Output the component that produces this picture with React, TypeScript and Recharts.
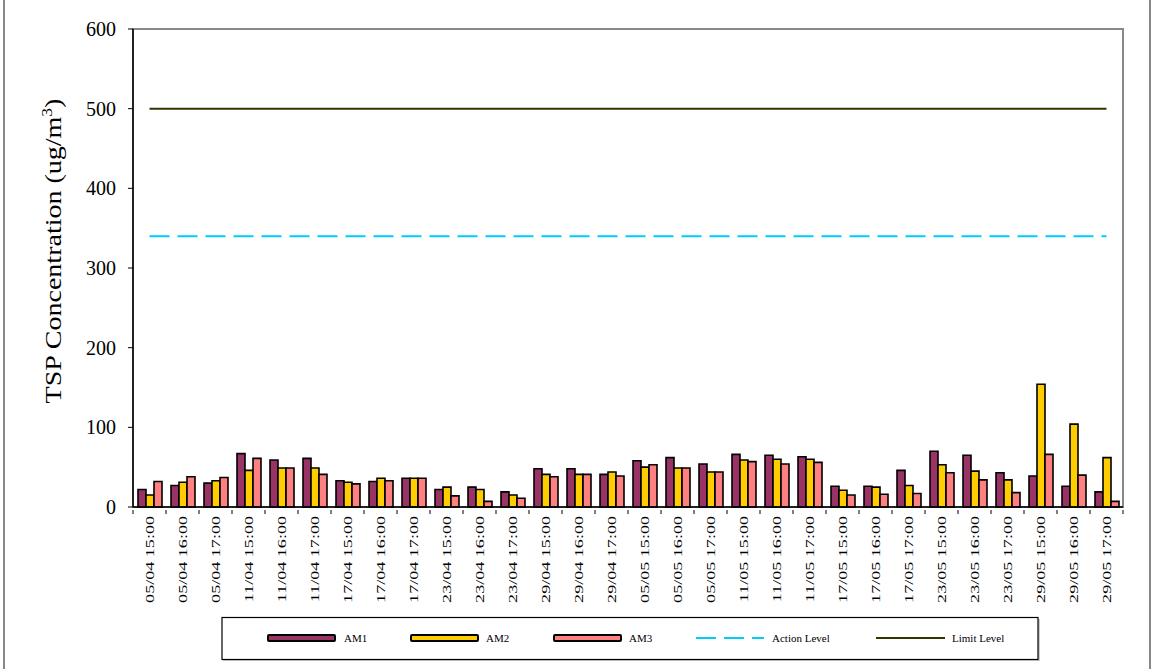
import React from "react";
import { ComposedChart, Bar, Line, XAxis, YAxis } from "recharts";

const categories = [
  "05/04 15:00", "05/04 16:00", "05/04 17:00",
  "11/04 15:00", "11/04 16:00", "11/04 17:00",
  "17/04 15:00", "17/04 16:00", "17/04 17:00",
  "23/04 15:00", "23/04 16:00", "23/04 17:00",
  "29/04 15:00", "29/04 16:00", "29/04 17:00",
  "05/05 15:00", "05/05 16:00", "05/05 17:00",
  "11/05 15:00", "11/05 16:00", "11/05 17:00",
  "17/05 15:00", "17/05 16:00", "17/05 17:00",
  "23/05 15:00", "23/05 16:00", "23/05 17:00",
  "29/05 15:00", "29/05 16:00", "29/05 17:00",
];

const am1 = [22, 27, 30, 67, 59, 61, 33, 32, 36, 22, 25, 19, 48, 48, 41, 58, 62, 54, 66, 65, 63, 26, 26, 46, 70, 65, 43, 39, 26, 19];
const am2 = [15, 31, 33, 46, 49, 49, 31, 36, 36, 25, 22, 15, 41, 41, 44, 50, 49, 44, 59, 60, 60, 21, 25, 27, 53, 45, 34, 154, 104, 62];
const am3 = [32, 38, 37, 61, 49, 41, 29, 33, 36, 14, 7, 11, 38, 41, 39, 53, 49, 44, 57, 54, 56, 15, 16, 17, 43, 34, 18, 66, 40, 7];
const actionLevel = 340;
const limitLevel = 500;
const yTicks = [0, 100, 200, 300, 400, 500, 600];

const data = categories.map((c, i) => ({
  cat: c,
  AM1: am1[i],
  AM2: am2[i],
  AM3: am3[i],
  action: actionLevel,
  limit: limitLevel,
}));

const FONT = "'Liberation Serif', 'Times New Roman', serif";
const PLOT_LEFT = 133;
const PLOT_RIGHT = 1123;
const HALF_BAND = (PLOT_RIGHT - PLOT_LEFT) / categories.length / 2;

const XTick = (props: any) => {
  const { x, y, payload, index } = props;
  return (
    <g>
      {index === 0 && <line x1={x - HALF_BAND} x2={x - HALF_BAND} y1={y - 5} y2={y - 1} stroke="#000" />}
      <line x1={x + HALF_BAND} x2={x + HALF_BAND} y1={y - 5} y2={y - 1} stroke="#000" />
      <text
        x={0}
        y={0}
        transform={`translate(${x}, ${y + 1}) rotate(-90) scale(1.34, 1)`}
        dy={4.6}
        textAnchor="end"
        fontFamily={FONT}
        fontSize={13.5}
        fill="#000"
      >
        {payload.value}
      </text>
    </g>
  );
};

const YLabel = () => (
  <text
    x={0}
    y={0}
    transform="translate(61, 251) rotate(-90) scale(1.24, 1)"
    textAnchor="middle"
    fontFamily={FONT}
    fontSize={22.6}
    fill="#000"
  >
    TSP Concentration (ug/m
    <tspan dy={-9} fontSize={14}>3</tspan>
    <tspan dy={9}>)</tspan>
  </text>
);

const legendItems = [
  { label: "AM1", type: "bar", color: "#993366", sx: 268, tx: 344 },
  { label: "AM2", type: "bar", color: "#FFCC00", sx: 411, tx: 486 },
  { label: "AM3", type: "bar", color: "#FF8080", sx: 554, tx: 629 },
  { label: "Action Level", type: "dash", color: "#00CCFF", sx: 696, tx: 772 },
  { label: "Limit Level", type: "line", color: "#333300", sx: 876, tx: 952 },
];

const Legend = () => (
  <svg width={1151} height={669} style={{ position: "absolute", left: 0, top: 0, pointerEvents: "none" }}>
    <rect x={223} y={619} width={817} height={42} fill="#ccc" />
    <rect x={222} y={617.5} width={816} height={42} fill="#fff" stroke="#000" strokeWidth={1.2} />
    {legendItems.map((it) => (
      <g key={it.label}>
        {it.type === "bar" && (
          <rect x={it.sx} y={635} width={67} height={6} fill={it.color} stroke="#000" strokeWidth={2} rx={1} />
        )}
        {it.type === "dash" && (
          <line x1={it.sx} x2={it.sx + 68} y1={638} y2={638} stroke={it.color} strokeWidth={2.2} strokeDasharray="20 8" />
        )}
        {it.type === "line" && (
          <line x1={it.sx} x2={it.sx + 69} y1={638} y2={638} stroke={it.color} strokeWidth={2.2} />
        )}
        <text x={it.tx} y={642} fontFamily={FONT} fontSize={11} fill="#000">
          {it.label}
        </text>
      </g>
    ))}
  </svg>
);

export default function App() {
  return (
    <div style={{ position: "fixed", left: 0, top: 0, width: 1151, height: 669, background: "#fff" }}>
      <div
        style={{
          position: "absolute",
          left: 3,
          top: -2,
          width: 1144,
          height: 673,
          borderLeft: "2px solid #888",
          borderRight: "2px solid #888",
        }}
      />
      <div style={{ position: "absolute", left: 0, top: 0 }}>
        <ComposedChart
          width={1151}
          height={669}
          data={data}
          margin={{ top: 29, right: 1151 - PLOT_RIGHT, left: PLOT_LEFT - 80, bottom: 57 }}
          barGap={0}
          barCategoryGap={4}
        >
          <rect x={PLOT_LEFT} y={29} width={PLOT_RIGHT - PLOT_LEFT} height={478} fill="none" stroke="#888" strokeWidth={2} />
          <XAxis
            dataKey="cat"
            interval={0}
            height={105}
            tick={<XTick />}
            tickLine={false}
            axisLine={{ stroke: "#000", strokeWidth: 1.5 }}
          />
          <YAxis
            width={80}
            domain={[0, 600]}
            ticks={yTicks}
            tickSize={5}
            tickMargin={12}
            tick={{ fontFamily: FONT, fontSize: 20, fill: "#000" }}
            tickLine={{ stroke: "#000" }}
            axisLine={{ stroke: "#000", strokeWidth: 1.5 }}
          />
          <Bar dataKey="AM1" fill="#993366" stroke="#000" strokeWidth={1.6} barSize={8} isAnimationActive={false} />
          <Bar dataKey="AM2" fill="#FFCC00" stroke="#000" strokeWidth={1.6} barSize={8} isAnimationActive={false} />
          <Bar dataKey="AM3" fill="#FF8080" stroke="#000" strokeWidth={1.6} barSize={8} isAnimationActive={false} />
          <Line
            dataKey="action"
            stroke="#00CCFF"
            strokeWidth={2}
            strokeDasharray="20 8"
            dot={false}
            activeDot={false}
            isAnimationActive={false}
          />
          <Line dataKey="limit" stroke="#333300" strokeWidth={2} dot={false} activeDot={false} isAnimationActive={false} />
          <YLabel />
        </ComposedChart>
      </div>
      <Legend />
    </div>
  );
}
